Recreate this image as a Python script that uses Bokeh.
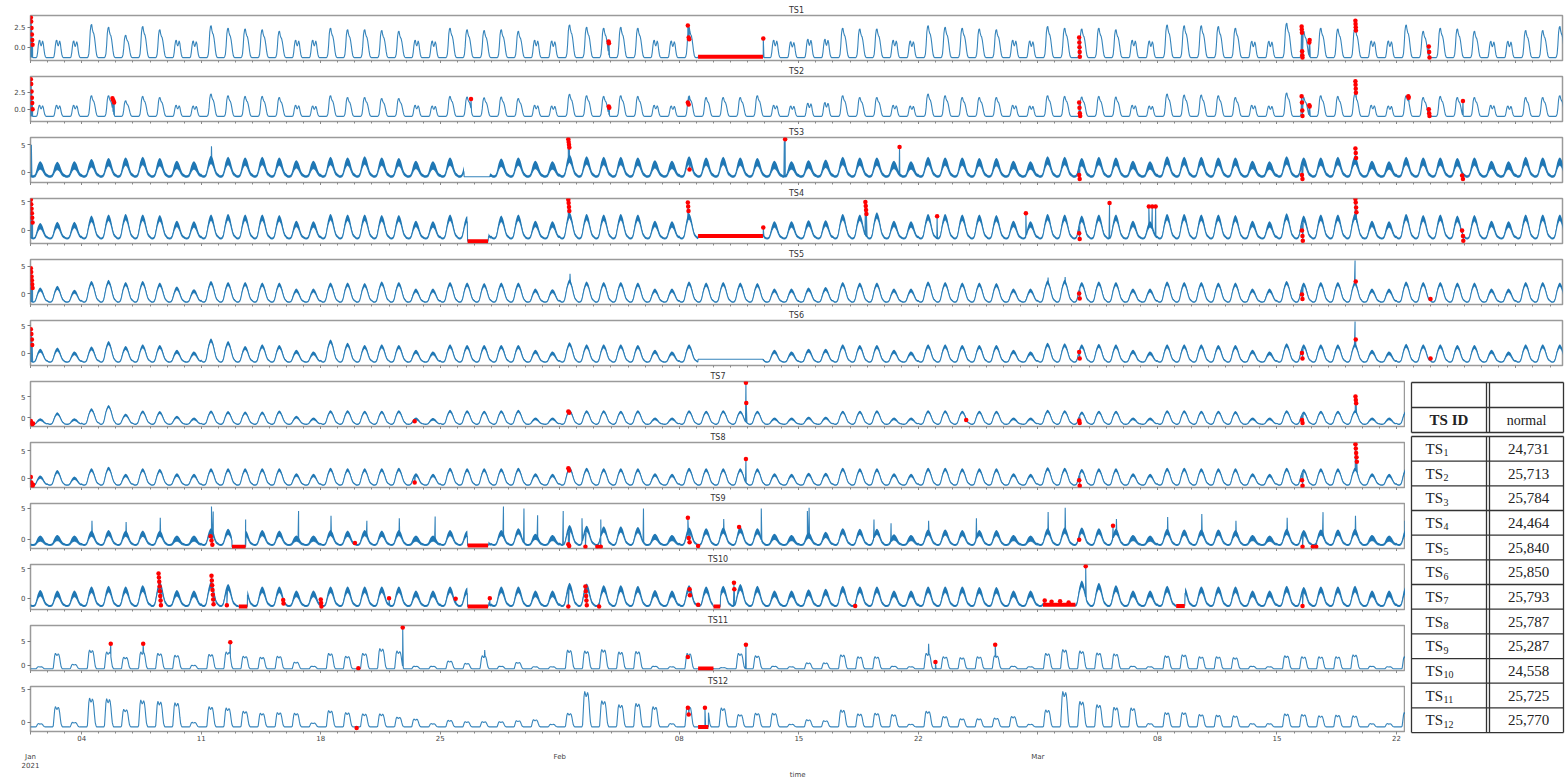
import numpy as np
from bokeh.plotting import figure
from bokeh.layouts import column, row
from bokeh.models import FixedTicker, Range1d, LinearAxis
from bokeh.core.properties import value
from bokeh.embed import file_html
from bokeh.resources import INLINE

# ---------------------------------------------------------------------------
# Calendar (day 0 = 2021-01-01, one sample per hour)
# ---------------------------------------------------------------------------
N_DAYS = 90
REST_DAYS = [0, 1, 2, 8, 9, 15, 16, 22, 23, 29, 30, 36, 37, 43, 44, 45, 46,
             50, 51, 57, 58, 64, 65, 71, 72, 78, 79, 85, 86]
WEEK_TICKS = [3, 10, 17, 24, 38, 45, 52, 66, 73, 80, 87]
WEEK_LABELS = ["04", "11", "18", "25", "08", "15", "22", "08", "15", "22", "29"]
MONTH_TICKS = [0, 31, 59]
MONTH_LABELS = ["Jan", "Feb", "Mar"]
YEAR_LABEL = "2021"
X_TITLE = "time"
X_TITLE_AT = 44.93   # centre of the full time axis, in days

# Hourly day shapes: share of the day's peak above the night-time base
SHAPE_SPIKE = [0, 0, 0, 0, 0, 0, 0, 0, 0, 0.03, 0.12, 0.4, 0.8, 0.97,
               1.0, 0.85, 0.76, 0.72, 0.6, 0.42, 0.22, 0.08, 0.02, 0]
SHAPE_TWIN = [0, 0, 0, 0, 0, 0, 0, 0, 0, 0.05, 0.3, 0.7, 0.95, 1.0,
              0.75, 0.65, 0.8, 0.95, 0.8, 0.45, 0.18, 0.05, 0, 0]
SHAPE_BROAD = [0.08, 0.04, 0.01, 0.0, 0.0, 0.02, 0.06, 0.15, 0.32, 0.52, 0.7, 0.82,
               0.92, 0.98, 1.0, 0.95, 0.88, 0.78, 0.64, 0.48, 0.34, 0.22, 0.15, 0.11]
SHAPE_PLATEAU = [0, 0, 0, 0, 0, 0, 0, 0, 0.05, 0.45, 0.85, 1.0, 0.93, 0.85,
                 0.9, 0.97, 0.9, 0.7, 0.4, 0.15, 0.05, 0, 0, 0]

# ---------------------------------------------------------------------------
# Daily peaks per series (Fri-Sun, then Monday..Sunday weeks, then Mon-Wed)
# ---------------------------------------------------------------------------
ts1_peaks = [0.9, 0.9, 0.8,
             2.85, 2.5, 1.5, 2.6, 2.2, 0.9, 0.8,
             2.7, 2.4, 2.3, 2.2, 2.0, 0.9, 0.9,
             2.4, 2.2, 2.2, 2.1, 2.0, 0.9, 0.8,
             2.4, 2.2, 2.1, 2.2, 2.0, 0.9, 0.8,
             2.8, 2.5, 2.4, 2.5, 2.4, 0.9, 0.8,
             2.5, 2.3, 2.3, 2.3, 2.3, 0.9, 0.7,
             1.0, 1.0, 2.4, 2.3, 2.3, 0.9, 0.8,
             2.7, 2.5, 2.4, 2.3, 2.2, 0.9, 0.8,
             2.6, 2.4, 2.3, 2.4, 2.2, 0.9, 0.8,
             2.8, 2.7, 2.7, 2.6, 2.4, 0.75, 0.75,
             3.0, 2.0, 2.4, 2.3, 2.4, 0.8, 0.8,
             2.8, 2.0, 2.4, 2.3, 2.0, 0.75, 0.75,
             2.1, 2.1, 2.6]
ts2_peaks = [0.6, 0.6, 0.6,
             2.0, 2.0, 1.24, 1.9, 1.74, 0.6, 0.5,
             2.24, 2.0, 1.9, 1.9, 1.74, 0.6, 0.5,
             2.0, 1.74, 1.74, 1.6, 1.6, 0.6, 0.5,
             1.9, 1.8, 1.7, 1.8, 1.6, 0.6, 0.5,
             2.2, 2.0, 1.9, 2.0, 1.9, 0.6, 0.5,
             2.0, 1.74, 1.74, 1.74, 2.0, 0.6, 0.5,
             0.9, 1.0, 2.0, 1.74, 1.74, 0.6, 0.5,
             2.24, 2.0, 1.74, 1.74, 1.74, 0.6, 0.5,
             2.0, 1.9, 1.8, 1.9, 1.8, 0.6, 0.5,
             2.24, 2.1, 2.1, 2.0, 1.74, 0.6, 0.5,
             2.4, 1.74, 2.0, 1.9, 2.2, 0.6, 0.5,
             2.0, 1.74, 1.9, 1.74, 1.74, 0.6, 0.5,
             1.74, 1.74, 2.0]
ts3_peaks = [0.6, 0.5, 0.6,
             1.0, 1.2, 1.3, 1.4, 1.2, 0.7, 0.6,
             1.6, 1.4, 1.3, 1.4, 1.3, 0.8, 0.7,
             1.4, 1.3, 1.5, 1.3, 1.2, 0.7, 0.6,
             1.3, 1.2, 0.5, 1.1, 1.3, 0.7, 0.6,
             1.8, 1.5, 1.4, 1.4, 1.3, 0.8, 0.7,
             1.5, 1.3, 1.4, 1.3, 1.2, 0.7, 0.6,
             0.8, 0.9, 1.4, 1.3, 1.3, 0.7, 0.6,
             1.4, 1.3, 1.3, 1.2, 1.2, 0.7, 0.6,
             1.5, 1.4, 1.2, 1.4, 1.3, 0.7, 0.6,
             1.5, 1.4, 1.4, 1.3, 1.3, 0.7, 0.6,
             1.5, 1.3, 1.3, 1.4, 1.5, 0.7, 0.6,
             1.4, 1.3, 1.3, 1.2, 1.3, 0.7, 0.6,
             1.4, 1.3, 1.3]
ts4_peaks = [0.3, 0.5, 0.5,
             1.6, 1.8, 1.9, 1.8, 1.7, 0.7, 0.6,
             1.8, 1.9, 1.8, 1.8, 1.7, 0.7, 0.6,
             1.9, 1.8, 1.8, 1.7, 1.7, 0.7, 0.6,
             1.8, 1.5, 0.0, 1.6, 1.8, 0.7, 0.6,
             2.2, 1.9, 1.8, 1.9, 1.8, 0.7, 0.6,
             2.0, 1.8, 1.8, 1.8, 1.8, 0.6, 0.6,
             0.8, 0.8, 1.9, 1.8, 2.2, 0.7, 0.6,
             1.9, 1.9, 1.8, 1.8, 1.7, 0.7, 0.6,
             1.9, 1.8, 1.6, 1.8, 1.8, 0.7, 0.6,
             1.9, 1.9, 1.8, 1.8, 1.7, 0.7, 0.6,
             2.0, 1.6, 1.8, 1.8, 2.0, 0.7, 0.6,
             1.9, 1.7, 1.8, 1.6, 1.7, 0.7, 0.6,
             1.8, 1.8, 1.8]
ts5_peaks = [0.5, 0.8, 0.1,
             1.7, 1.9, 1.5, 1.7, 1.4, 0.7, 0.2,
             1.7, 1.5, 1.5, 1.4, 1.4, 0.3, 0.3,
             1.4, 1.4, 1.3, 1.6, 1.5, 0.3, 0.3,
             1.5, 1.4, 1.3, 1.4, 1.4, 0.3, 0.2,
             2.0, 1.6, 1.5, 1.5, 1.4, 0.3, 0.3,
             1.6, 1.4, 1.5, 1.4, 1.3, 0.3, 0.3,
             0.5, 0.6, 1.5, 1.4, 1.4, 0.3, 0.3,
             1.6, 1.5, 1.4, 1.4, 1.3, 0.3, 0.3,
             1.8, 1.9, 1.5, 1.6, 1.5, 0.3, 0.3,
             1.6, 1.5, 1.5, 1.4, 1.4, 0.3, 0.3,
             1.7, 1.4, 1.5, 1.5, 1.6, 0.3, 0.3,
             1.6, 1.5, 1.5, 1.4, 1.4, 0.3, 0.3,
             1.5, 1.5, 1.4]
ts6_peaks = [0.2, 0.4, -0.3,
             0.6, 1.6, 0.7, 1.0, 0.9, 0.0, -0.3,
             2.1, 1.6, 0.7, 1.0, 0.9, 0.0, -0.3,
             1.9, 1.3, 0.9, 1.0, 0.9, 0.0, -0.3,
             1.0, 0.9, 0.9, 0.9, 0.9, 0.0, -0.3,
             1.4, 1.0, 1.0, 1.0, 0.9, 0.0, -0.3,
             1.0, 0.9, 0.9, 0.9, 0.9, 0.0, -0.3,
             0.2, 0.2, 1.0, 0.9, 0.9, 0.0, -0.3,
             1.0, 1.0, 0.9, 0.9, 0.9, 0.0, -0.3,
             1.3, 1.2, 1.0, 1.1, 1.0, 0.0, -0.3,
             1.0, 1.0, 1.0, 0.9, 0.9, 0.0, -0.3,
             1.2, 1.0, 1.0, 1.0, 1.2, 0.0, -0.3,
             1.1, 1.0, 1.0, 0.9, 0.9, 0.0, -0.3,
             1.0, 1.0, 1.0]
ts7_peaks = [-0.6, 0.8, -0.6,
             1.75, 2.5, 0.5, 1.25, 1.1, 0.0, -0.4,
             1.25, 1.1, 1.0, 1.0, 1.25, 0.0, -0.4,
             1.3, 1.3, 1.2, 1.2, 1.3, -0.4, -0.5,
             1.4, 1.3, 1.2, 1.3, 1.4, -0.4, -0.4,
             1.4, 1.3, 1.3, 1.2, 1.3, -0.4, -0.4,
             1.3, 1.2, 1.3, 1.2, 1.2, -0.4, -0.4,
             -0.2, -0.2, 1.2, 1.2, 1.3, -0.4, -0.4,
             1.3, 1.3, 1.2, 1.2, 1.2, -0.4, -0.4,
             1.4, 1.3, 1.0, 1.2, 1.2, -0.4, -0.4,
             1.3, 1.3, 1.2, 1.2, 1.1, -0.4, -0.4,
             1.3, 1.0, 1.2, 1.2, 1.3, -0.4, -0.4,
             1.3, 1.2, 1.2, 1.1, 1.1, -0.4, -0.4,
             1.2, 1.2, 1.2]
ts8_peaks = [0.0, 1.0, -0.2,
             1.3, 1.6, 0.3, 1.3, 1.2, 0.4, 0.3,
             1.3, 1.3, 1.3, 1.3, 1.3, 0.4, 0.3,
             1.4, 1.3, 1.3, 1.3, 1.4, 0.4, 0.3,
             1.4, 1.3, 1.3, 1.3, 1.4, 0.4, 0.3,
             1.6, 1.4, 1.3, 1.3, 1.3, 0.4, 0.3,
             1.4, 1.3, 1.3, 1.3, 1.3, 0.4, 0.3,
             0.5, 0.5, 1.4, 1.3, 1.3, 0.4, 0.3,
             1.4, 1.4, 1.3, 1.3, 1.3, 0.4, 0.3,
             1.5, 1.4, 1.2, 1.3, 1.3, 0.4, 0.3,
             1.4, 1.4, 1.3, 1.3, 1.3, 0.4, 0.3,
             1.4, 1.2, 1.3, 1.3, 1.4, 0.4, 0.3,
             1.4, 1.3, 1.3, 1.2, 1.2, 0.4, 0.3,
             1.3, 1.3, 1.3]
ts9_peaks = [-0.3, -0.2, -0.3,
             0.5, 0.6, 0.5, 0.5, 0.5, -0.3, -0.3,
             0.9, 0.8, 0.6, 0.6, 0.5, -0.3, -0.3,
             0.6, 0.5, 0.6, 0.5, 0.6, -0.3, -0.3,
             0.6, 0.5, -0.5, 0.6, 0.9, 0.0, -0.2,
             1.4, 1.3, 1.2, 1.2, 1.1, 0.0, -0.2,
             1.0, 0.9, 1.0, 1.1, 0.9, 0.0, -0.2,
             0.2, 0.3, 0.9, 0.8, 0.8, -0.1, -0.2,
             0.7, 0.7, 0.6, 0.6, 0.6, -0.2, -0.3,
             0.9, 1.0, 1.0, 0.9, 0.8, -0.2, -0.3,
             0.8, 0.7, 0.7, 0.7, 0.6, -0.2, -0.3,
             0.8, 0.6, 0.7, 0.7, 0.8, -0.2, -0.3,
             0.8, 0.7, 0.7, 0.6, 0.6, -0.2, -0.3,
             0.7, 0.7, 0.7]
ts10_peaks = [0.4, 0.3, 0.3,
              1.0, 1.1, 1.0, 1.2, 1.8, 0.4, 0.3,
              1.8, 1.4, 1.1, 1.0, 1.0, 0.3, 0.3,
              1.0, 1.0, 1.0, 1.0, 1.0, 0.3, 0.3,
              1.0, 0.8, -0.5, 1.0, 1.0, 0.3, 0.3,
              1.6, 1.5, 1.2, 1.2, 1.1, 0.4, 0.3,
              1.2, 1.0, 1.1, 1.4, 1.1, 0.3, 0.3,
              0.5, 0.6, 1.1, 1.0, 1.0, 0.3, 0.3,
              1.0, 1.0, 1.0, 0.9, 0.9, 0.3, 0.3,
              0.5, 0.3, 2.0, 1.6, 1.2, 0.3, 0.3,
              1.1, 1.0, 1.0, 1.0, 1.0, 0.3, 0.3,
              1.1, 0.9, 1.0, 1.0, 1.1, 0.3, 0.3,
              1.1, 1.0, 1.0, 0.9, 0.9, 0.3, 0.3,
              1.0, 1.0, 1.0]
ts11_peaks = [-0.3, 2.5, 0.2,
              3.2, 2.8, 1.7, 2.8, 2.5, 2.1, 0.0,
              2.3, 2.8, 1.9, 1.7, 1.9, 0.65, -0.2,
              2.5, 1.9, 2.5, 3.5, 3.0, -0.2, -0.2,
              0.9, 0.4, 2.0, -0.2, 0.6, -0.3, -0.3,
              3.2, 3.0, 3.3, 2.8, 2.9, -0.2, -0.3,
              2.5, -0.7, -0.5, 2.5, 2.0, -0.2, -0.3,
              0.5, 0.5, 2.2, 1.8, 1.8, -0.2, -0.3,
              2.5, 1.8, 1.6, 1.8, 2.0, -0.2, -0.3,
              2.5, 3.3, 3.0, 2.6, 2.4, -0.2, -0.3,
              2.0, 2.2, 1.8, 1.8, 1.6, -0.2, -0.3,
              2.0, 1.8, 1.8, 1.8, 2.2, -0.2, -0.3,
              1.8, 1.7, 1.6, 1.6, 1.5, -0.2, -0.3,
              1.6, 1.6, 1.6]
ts12_peaks = [-0.2, 2.4, 0.0,
              3.7, 3.6, 2.0, 3.4, 3.2, 3.0, 0.0,
              2.4, 2.2, 1.7, 1.4, 1.5, 1.4, -0.1,
              1.8, 1.5, 1.3, 1.3, 0.8, 0.5, -0.2,
              0.3, 0.1, 0.1, 0.1, 0.25, 0.4, -0.3,
              1.4, 4.7, 3.3, 2.7, 2.9, 2.4, -0.2,
              2.4, 2.4, 2.2, 1.2, 1.4, 1.4, -0.3,
              0.4, 0.25, 1.9, 1.3, 1.4, 1.2, -0.3,
              1.7, 0.9, 0.55, 0.55, 0.65, 0.9, -0.3,
              1.9, 4.7, 3.2, 2.7, 2.3, 2.2, -0.2,
              1.5, 1.5, 1.2, 1.1, 1.0, -0.2, -0.2,
              1.3, 1.2, 1.0, 1.1, 1.0, -0.2, -0.2,
              1.5, 1.2, 1.2, 1.1, 1.0, -0.2, -0.2,
              1.2, 1.2, 1.2]

# Flagged points (day, value)
ts1_anomalies = [(0.02, 3.7), (0.04, 3.2), (0.06, 2.4), (0.08, 1.6), (0.10, 0.9), (0.12, 0.3),
                 (33.86, 0.7), (33.88, 0.5), (38.50, 2.7), (38.55, 1.2), (38.58, 1.0),
                 (42.92, 1.1), (61.42, 1.2), (61.43, 0.6), (61.44, 0.0), (61.45, -0.6),
                 (61.46, -1.2), (74.45, 2.6), (74.46, 2.2), (74.47, 1.8), (74.48, -0.5),
                 (74.49, -1.0), (74.50, -1.3), (74.90, 0.6), (74.92, 0.9), (77.60, 3.3),
                 (77.61, 2.9), (77.62, 2.5), (77.63, 2.1), (81.90, 0.1), (81.92, -0.6),
                 (81.94, -1.3)]
ts2_anomalies = [(0.02, 4.4), (0.04, 3.7), (0.06, 2.6), (0.08, 1.7), (0.10, 0.9), (0.12, 0.0),
                 (4.80, 1.6), (4.85, 1.3), (4.90, 1.0), (25.80, 1.5), (33.87, 0.4),
                 (33.90, 0.2), (38.50, 1.0), (38.55, 0.7), (61.42, 1.0), (61.44, 0.2),
                 (61.46, -0.6), (61.48, -1.0), (74.45, 1.9), (74.47, 1.0), (74.49, -0.2),
                 (74.50, -1.0), (74.90, 0.6), (74.92, 0.4), (77.60, 4.1), (77.61, 3.6),
                 (77.62, 3.0), (77.63, 2.4), (80.70, 1.9), (80.72, 1.7), (81.90, 0.0),
                 (81.92, -0.6), (81.94, -1.0), (83.90, 1.2)]
ts3_anomalies = [(31.50, 6.0), (31.52, 5.5), (31.54, 5.0), (31.56, 4.5), (38.60, 0.5),
                 (44.20, 6.0), (50.90, 4.6), (61.42, -0.5), (61.45, -1.2), (74.47, -0.5),
                 (74.50, -1.2), (77.60, 4.3), (77.62, 3.5), (77.64, 2.6), (83.85, -0.6),
                 (83.90, -1.2)]
ts4_anomalies = [(0.02, 5.4), (0.04, 4.6), (0.06, 3.8), (0.08, 3.0), (0.10, 2.2), (0.12, 1.4),
                 (31.50, 5.4), (31.52, 4.8), (31.54, 4.1), (31.56, 3.4), (38.50, 4.9),
                 (38.52, 4.2), (38.54, 3.4), (42.92, 0.5), (48.90, 5.0), (48.92, 4.3),
                 (48.94, 3.6), (48.96, 2.9), (53.10, 2.5), (58.30, 3.0), (61.42, -0.5),
                 (61.45, -1.5), (63.20, 4.8), (65.50, 4.2), (65.70, 4.2), (65.90, 4.2),
                 (74.47, 0.0), (74.50, -1.0), (74.52, -1.8), (77.60, 5.5), (77.62, 4.9),
                 (77.64, 4.0), (77.66, 3.2), (83.85, 0.0), (83.90, -1.0), (83.92, -1.8)]
ts5_anomalies = [(0.02, 4.6), (0.04, 3.9), (0.06, 3.1), (0.08, 2.4), (0.10, 1.7), (0.12, 1.0),
                 (61.42, 0.0), (61.45, -0.9), (74.47, -0.2), (74.50, -1.0), (77.62, 2.2),
                 (82.00, -1.0)]
ts6_anomalies = [(0.02, 4.4), (0.05, 3.5), (0.08, 2.5), (0.10, 1.5), (61.42, 0.2),
                 (61.45, -1.0), (74.47, 0.0), (74.50, -1.0), (77.62, 2.5), (82.00, -1.0)]
ts7_anomalies = [(0.02, -0.7), (0.05, -1.2), (0.10, -1.5), (0.15, -1.3), (22.50, -0.8),
                 (31.50, 1.5), (31.55, 1.2), (41.90, 8.2), (41.92, 3.5), (54.80, -0.5),
                 (61.42, -0.6), (61.45, -1.2), (74.47, -0.5), (74.50, -1.2), (77.60, 5.0),
                 (77.62, 4.2), (77.64, 3.4)]
ts8_anomalies = [(0.02, 0.2), (0.05, -0.8), (0.10, -1.5), (0.15, -1.2), (22.50, -0.8),
                 (31.50, 1.8), (31.55, 1.4), (41.90, 3.5), (61.42, -0.4), (61.45, -1.4),
                 (74.47, -0.4), (74.50, -1.4), (77.60, 6.2), (77.62, 5.4), (77.64, 4.6),
                 (77.66, 3.8), (77.68, 3.0)]
ts9_anomalies = [(10.55, 0.5), (10.60, -0.2), (10.65, -0.9), (19.00, -0.6), (31.50, -0.8),
                 (31.55, -1.1), (32.50, -1.2), (33.20, -1.2), (33.40, -1.2), (38.50, 3.5),
                 (38.55, 0.2), (38.60, -0.5), (39.10, -1.1), (41.50, 2.0), (61.42, -0.1),
                 (63.40, 2.2), (74.50, -1.2), (75.10, -1.2), (75.30, -1.2)]
ts10_anomalies = [(7.50, 4.2), (7.52, 3.5), (7.54, 2.8), (7.56, 2.0), (7.58, 1.2), (7.60, 0.4),
                  (7.62, -0.4), (7.64, -1.2), (10.60, 3.8), (10.62, 3.0), (10.64, 2.2),
                  (10.66, 1.4), (10.68, 0.6), (10.70, -0.2), (10.72, -1.0), (11.50, -1.2),
                  (14.80, -0.3), (14.82, -0.9), (17.00, -0.2), (17.02, -0.8), (17.04, -1.4),
                  (21.00, 0.0), (24.90, -0.1), (26.90, 0.0), (31.50, -1.4), (32.50, 2.0),
                  (32.52, 1.2), (32.54, 0.4), (32.56, -0.4), (32.58, -1.2), (33.30, -1.4),
                  (38.60, 1.5), (38.62, 0.5), (39.10, -1.1), (41.20, 2.6), (41.22, 1.5),
                  (48.30, -1.3), (59.40, -0.4), (59.80, -0.6), (60.30, -0.5), (60.80, -0.7),
                  (61.80, 5.4), (74.50, -1.3)]
ts11_anomalies = [(4.70, 4.5), (6.60, 4.5), (11.70, 4.8), (19.20, -0.65), (21.80, 7.9),
                  (38.50, 1.7), (41.90, 4.3), (53.00, 0.65), (56.50, 4.3)]
ts12_anomalies = [(19.10, -0.85), (38.50, 2.2), (38.55, 1.2), (39.50, 2.2)]

# Unflagged isolated peaks (day, value)
ts3_spikes = [(0.05, 5.0), (10.60, 4.7), (44.15, 5.6)]
ts5_spikes = [(31.60, 3.6), (59.60, 2.9), (60.60, 3.0), (77.58, 6.0)]
ts6_spikes = [(77.58, 5.8)]
ts9_spikes = [(3.6, 3.0), (5.6, 2.8), (7.6, 3.5), (10.6, 5.3), (10.7, 4.5), (12.6, 3.2),
              (15.7, 4.6), (17.6, 3.8), (19.7, 3.0), (21.6, 3.4), (23.7, 3.7), (27.7, 5.3),
              (28.9, 5.0), (29.7, 3.9), (31.2, 4.6), (32.3, 3.4), (33.4, 3.2), (35.9, 5.0),
              (40.6, 3.3), (42.8, 5.0), (45.5, 4.6), (45.6, 5.1), (49.4, 3.2), (50.4, 2.6),
              (52.6, 3.0), (55.4, 3.4), (59.6, 4.4), (60.6, 5.1), (63.6, 3.3), (66.6, 3.6),
              (68.6, 4.1), (70.6, 3.0), (73.6, 3.5), (75.7, 4.4), (77.6, 3.8), (80.5, 3.0),
              (82.6, 4.6), (84.6, 4.0), (87.6, 3.8), (88.6, 4.9)]
ts11_spikes = [(26.60, 3.2), (52.60, 4.5)]

# Constant stretches (start day, end day, value, flagged)
ts1_flats = [(39.1, 42.9, -1.2, True)]
ts3_flats = [(25.4, 26.9, -0.8, False)]
ts4_flats = [(25.6, 26.8, -1.9, True), (39.1, 42.9, -1.0, True)]
ts6_flats = [(39.1, 42.9, -1.15, False)]
ts9_flats = [(11.8, 12.6, -1.2, True), (25.6, 26.8, -1.0, True)]
ts10_flats = [(12.2, 12.7, -1.4, True), (25.6, 26.8, -1.4, True), (40.0, 40.4, -1.4, True),
              (59.3, 61.2, -1.1, True), (67.1, 67.6, -1.3, True)]
ts11_flats = [(39.1, 40.0, -0.7, True)]
ts12_flats = [(39.1, 39.7, -0.7, True)]

# Table of normal-point counts
TABLE_IDS = ["1", "2", "3", "4", "5", "6", "7", "8", "9", "10", "11", "12"]
TABLE_NORMAL = ["24,731", "25,713", "25,784", "24,464", "25,840", "25,850",
                "25,793", "25,787", "25,287", "24,558", "25,725", "25,770"]

SERIES = [
    dict(name="TS1", peaks=ts1_peaks, base=-1.3, work=SHAPE_SPIKE, rest=SHAPE_TWIN, band=0.0,
         anomalies=ts1_anomalies, spikes=[], flats=ts1_flats, ylim=(-1.66, 3.96),
         yticks=[0, 2.5], ylabels=["0.0", "2.5"]),
    dict(name="TS2", peaks=ts2_peaks, base=-1.05, work=SHAPE_SPIKE, rest=SHAPE_TWIN, band=0.0,
         anomalies=ts2_anomalies, spikes=[], flats=[], ylim=(-1.8, 4.8),
         yticks=[0, 2.5], ylabels=["0.0", "2.5"]),
    dict(name="TS3", peaks=ts3_peaks, base=-0.9, work=SHAPE_BROAD, rest=None, band=1.4,
         anomalies=ts3_anomalies, spikes=ts3_spikes, flats=ts3_flats, ylim=(-1.85, 6.3),
         yticks=[0, 5], ylabels=["0", "5"]),
    dict(name="TS4", peaks=ts4_peaks, base=-1.5, work=SHAPE_BROAD, rest=None, band=1.0,
         anomalies=ts4_anomalies, spikes=[], flats=ts4_flats, ylim=(-2.3, 5.6),
         yticks=[0, 5], ylabels=["0", "5"]),
    dict(name="TS5", peaks=ts5_peaks, base=-1.6, work=SHAPE_BROAD, rest=None, band=0.6,
         anomalies=ts5_anomalies, spikes=ts5_spikes, flats=[], ylim=(-2.0, 6.2),
         yticks=[0, 5], ylabels=["0", "5"]),
    dict(name="TS6", peaks=ts6_peaks, base=-1.7, work=SHAPE_BROAD, rest=None, band=0.6,
         anomalies=ts6_anomalies, spikes=ts6_spikes, flats=ts6_flats, ylim=(-2.3, 6.0),
         yticks=[0, 5], ylabels=["0", "5"]),
    dict(name="TS7", peaks=ts7_peaks, base=-1.5, work=SHAPE_BROAD, rest=None, band=0.5,
         anomalies=ts7_anomalies, spikes=[], flats=[], ylim=(-2.0, 8.5),
         yticks=[0, 5], ylabels=["0", "5"]),
    dict(name="TS8", peaks=ts8_peaks, base=-1.3, work=SHAPE_BROAD, rest=None, band=0.5,
         anomalies=ts8_anomalies, spikes=[], flats=[], ylim=(-1.7, 6.5),
         yticks=[0, 5], ylabels=["0", "5"]),
    dict(name="TS9", peaks=ts9_peaks, base=-1.0, work=SHAPE_BROAD, rest=None, band=0.9,
         anomalies=ts9_anomalies, spikes=ts9_spikes, flats=ts9_flats, ylim=(-1.5, 5.8),
         yticks=[0, 5], ylabels=["0", "5"]),
    dict(name="TS10", peaks=ts10_peaks, base=-1.4, work=SHAPE_BROAD, rest=None, band=1.0,
         anomalies=ts10_anomalies, spikes=[], flats=ts10_flats, ylim=(-1.9, 5.7),
         yticks=[0, 5], ylabels=["0", "5"]),
    dict(name="TS11", peaks=ts11_peaks, base=-0.75, work=SHAPE_PLATEAU, rest=None, band=0.0,
         anomalies=ts11_anomalies, spikes=ts11_spikes, flats=ts11_flats, ylim=(-1.1, 8.3),
         yticks=[0, 5], ylabels=["0", "5"]),
    dict(name="TS12", peaks=ts12_peaks, base=-0.7, work=SHAPE_PLATEAU, rest=None, band=0.0,
         anomalies=ts12_anomalies, spikes=[], flats=ts12_flats, ylim=(-1.4, 5.45),
         yticks=[0, 5], ylabels=["0", "5"]),
]

BLUE = "#1f77b4"
FONT = "DejaVu Sans"


def hourly(s):
    """Hourly samples built from each day's peak and the day shape."""
    t, y, up = [], [], []
    for d, pk in enumerate(s["peaks"]):
        shape = s["rest"] if (s["rest"] is not None and d in REST_DAYS) else s["work"]
        for h, f in enumerate(shape):
            v = s["base"] + (pk - s["base"]) * f
            t.append(d + h / 24.0)
            y.append(v)
            up.append(v + s["band"] * (0.25 + 0.75 * f))
    t, y, up = np.array(t), np.array(y), np.array(up)
    for a, b, v, _ in s["flats"]:
        m = (t >= a) & (t <= b)
        y[m] = v
        up[m] = v
    return t, y, up


def full_line(s, t, y):
    """Hourly samples merged with flagged points, isolated peaks and flat ends."""
    extra = list(s["anomalies"]) + list(s["spikes"])
    for a, b, v, _ in s["flats"]:
        extra += [(a, v), (b, v)]
    et = np.array([e[0] for e in extra], dtype=float)
    ev = np.array([e[1] for e in extra], dtype=float)
    at = np.concatenate([t, et])
    av = np.concatenate([y, ev])
    order = np.argsort(at, kind="stable")
    return at[order], av[order]


def label_axis(ticks, labels, standoff):
    ax = LinearAxis(ticker=FixedTicker(ticks=ticks),
                    major_label_overrides={k: v for k, v in zip(ticks, labels)})
    ax.axis_line_color = None
    ax.major_tick_line_color = None
    ax.minor_tick_line_color = None
    ax.major_label_text_font = FONT
    ax.major_label_text_font_size = "7px"
    ax.major_label_text_color = "#444444"
    ax.major_label_standoff = standoff
    return ax


def panel(s, last_day, frame_w, top, bottom, right, bottom_labels=False):
    p = figure(title=s["name"], frame_width=frame_w, frame_height=45,
               x_range=Range1d(0, last_day), y_range=Range1d(*s["ylim"]),
               min_border_left=30, min_border_right=right,
               min_border_top=top, min_border_bottom=bottom,
               toolbar_location=None, output_backend="svg")
    p.title.align = "center"
    p.title.text_font = FONT
    p.title.text_font_size = "8px"
    p.title.text_font_style = "normal"
    p.title.text_color = "#333333"
    p.title.standoff = 2
    p.grid.visible = False
    p.outline_line_color = "#9a9a9a"
    p.outline_line_width = 1.5
    p.background_fill_color = "white"
    p.border_fill_color = "white"

    ya = p.yaxis[0]
    ya.ticker = FixedTicker(ticks=s["yticks"])
    ya.major_label_overrides = {k: v for k, v in zip(s["yticks"], s["ylabels"])}
    ya.axis_line_color = None
    ya.major_tick_out = 3
    ya.major_tick_in = 0
    ya.minor_tick_line_color = None
    ya.major_tick_line_color = "#777777"
    ya.major_label_text_font = FONT
    ya.major_label_text_font_size = "7px"
    ya.major_label_text_color = "#444444"
    ya.major_label_standoff = 2

    xa = p.xaxis[0]
    all_ticks = WEEK_TICKS + MONTH_TICKS
    xa.ticker = FixedTicker(ticks=all_ticks, minor_ticks=list(range(N_DAYS + 1)))
    xa.axis_line_color = None
    xa.major_tick_out = 3
    xa.major_tick_in = 0
    xa.minor_tick_out = 2
    xa.minor_tick_in = 0
    xa.major_tick_line_color = "#888888"
    xa.minor_tick_line_color = "#888888"
    xa.major_label_text_font = FONT
    xa.major_label_text_color = "#444444"
    if bottom_labels:
        labels = {k: v for k, v in zip(WEEK_TICKS, WEEK_LABELS)}
        labels.update({k: "" for k in MONTH_TICKS})
        xa.major_label_overrides = labels
        xa.major_label_text_font_size = "7px"
        xa.major_label_standoff = 0
        p.add_layout(label_axis(MONTH_TICKS, MONTH_LABELS, 3), "below")
        p.add_layout(label_axis(MONTH_TICKS[:1], [YEAR_LABEL], -8), "below")
        p.add_layout(label_axis([X_TITLE_AT], [X_TITLE], -6), "below")
    else:
        # tick marks only on the shared time axis of the upper panels
        xa.major_label_overrides = {k: "" for k in all_ticks}
        xa.major_label_text_font_size = "0px"
        xa.major_label_standoff = 0

    t, y, up = hourly(s)
    if s["band"] > 0:
        p.varea(x=t, y1=y, y2=up, fill_color=BLUE, fill_alpha=1.0)
    lt, lv = full_line(s, t, y)
    p.line(lt, lv, line_color=BLUE, line_width=1.1, line_alpha=0.9)
    for a, b, v, flagged in s["flats"]:
        if flagged:
            p.line([a, b], [v, v], line_color="red", line_width=4)
    if s["anomalies"]:
        p.scatter([a[0] for a in s["anomalies"]], [a[1] for a in s["anomalies"]],
                  size=4.5, color="red", line_color=None)
    return p


TOP_DAYS = 89.73
BOTTOM_DAYS = 80.53
TOP_BORDERS = [15, 13, 13, 13, 13, 13, 13, 13, 12, 13, 12, 13]

figs = []
for i, s in enumerate(SERIES):
    wide = i < 6
    last = i == 11
    figs.append(panel(s,
                      TOP_DAYS if wide else BOTTOM_DAYS,
                      1532 if wide else 1375,
                      TOP_BORDERS[i],
                      51 if last else 3,
                      3 if wide else 0,
                      bottom_labels=last))

# ---- table --------------------------------------------------------------
H = 412
tb = figure(width=160, height=H, x_range=Range1d(0, 160), y_range=Range1d(H, 0),
            x_axis_type=None, y_axis_type=None, min_border=0,
            toolbar_location=None, output_backend="svg")
tb.grid.visible = False
tb.outline_line_color = None
tb.background_fill_color = "white"
tb.border_fill_color = "white"

LEFT, SPLIT1, SPLIT2, RIGHT = 6, 81, 84, 158
TOP, HEAD1, HEAD2, BODY_TOP, ROW_H = 14, 39, 64, 68, 24.67
n = len(TABLE_IDS)
body_bottom = BODY_TOP + n * ROW_H

hx0, hy0, hx1, hy1 = [], [], [], []
for yy in [TOP, HEAD1, HEAD2] + [BODY_TOP + k * ROW_H for k in range(n + 1)]:
    hx0.append(LEFT); hx1.append(RIGHT); hy0.append(yy); hy1.append(yy)
for xx in (LEFT, SPLIT1, SPLIT2, RIGHT):
    hx0 += [xx, xx]; hx1 += [xx, xx]
    hy0 += [TOP, BODY_TOP]; hy1 += [HEAD2, body_bottom]
tb.segment(x0=hx0, y0=hy0, x1=hx1, y1=hy1, line_color="#333333", line_width=1.3)

tb.text(x=[(LEFT + SPLIT1) / 2], y=[(HEAD1 + HEAD2) / 2], text=["TS ID"],
        text_font=value("Liberation Serif"), text_font_style="bold",
        text_font_size="15px", text_align="center", text_baseline="middle",
        text_color="#222222")
tb.text(x=[(SPLIT2 + RIGHT) / 2], y=[(HEAD1 + HEAD2) / 2], text=["normal"],
        text_font=value("Liberation Serif"), text_font_size="14px",
        text_align="center", text_baseline="middle", text_color="#222222")

row_mid = [BODY_TOP + (k + 0.5) * ROW_H for k in range(n)]
tb.text(x=[20] * n, y=row_mid, text=["TS"] * n,
        text_font=value("Liberation Serif"), text_font_size="15px",
        text_align="left", text_baseline="middle", text_color="#222222")
tb.text(x=[38] * n, y=[m + 4 for m in row_mid], text=TABLE_IDS,
        text_font=value("Liberation Serif"), text_font_size="10px",
        text_align="left", text_baseline="middle", text_color="#222222")
tb.text(x=[123] * n, y=row_mid, text=TABLE_NORMAL,
        text_font=value("Liberation Serif"), text_font_size="15px",
        text_align="center", text_baseline="middle", text_color="#222222")

layout = column(*figs[:6], row(column(*figs[6:]), tb))

open("out.html", "w").write(file_html(layout, INLINE))
